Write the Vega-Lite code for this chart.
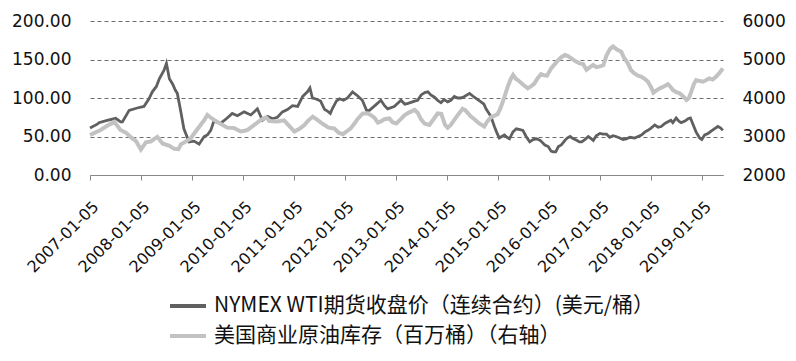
{
"$schema": "https://vega.github.io/schema/vega-lite/v6.json",
"width": 633, "height": 154,
"autosize": {"type": "none"},
"padding": {"left": 90, "top": 21, "right": 73, "bottom": 186},
"background": "white",
"config": {"view": {"stroke": null}, "font": "DejaVu Sans"},
"datasets": {
"wti": [
{"d":"2007-01-05","v":61},{"d":"2007-02-26","v":66},{"d":"2007-03-10","v":68},{"d":"2007-05-08","v":71},{"d":"2007-07-08","v":73.6},{"d":"2007-08-12","v":69},{"d":"2007-08-25","v":69},{"d":"2007-10-12","v":84},{"d":"2007-12-09","v":87},
{"d":"2008-01-26","v":89},{"d":"2008-03-02","v":99},{"d":"2008-03-26","v":108},{"d":"2008-04-24","v":115},{"d":"2008-05-15","v":125},{"d":"2008-06-18","v":136},{"d":"2008-07-05","v":145},{"d":"2008-07-26","v":125},{"d":"2008-08-19","v":118},{"d":"2008-09-07","v":110},{"d":"2008-09-21","v":106},{"d":"2008-10-16","v":82},{"d":"2008-11-07","v":60},{"d":"2008-12-14","v":43},
{"d":"2009-01-19","v":44},{"d":"2009-02-24","v":40},{"d":"2009-04-01","v":50},{"d":"2009-04-24","v":52},{"d":"2009-05-18","v":58},{"d":"2009-06-10","v":70},{"d":"2009-07-27","v":67},{"d":"2009-09-13","v":74},{"d":"2009-10-19","v":80},{"d":"2009-11-25","v":77},
{"d":"2010-01-12","v":82},{"d":"2010-03-01","v":78},{"d":"2010-04-17","v":86},{"d":"2010-05-23","v":71},{"d":"2010-06-29","v":76},{"d":"2010-08-04","v":73},{"d":"2010-09-07","v":75},{"d":"2010-10-13","v":82},{"d":"2010-11-18","v":85},{"d":"2010-12-24","v":90},
{"d":"2011-01-30","v":89},{"d":"2011-03-07","v":102},{"d":"2011-04-10","v":108},{"d":"2011-04-28","v":113},{"d":"2011-05-16","v":100},{"d":"2011-06-06","v":99},{"d":"2011-07-13","v":96},{"d":"2011-08-11","v":85},{"d":"2011-09-01","v":83},{"d":"2011-09-21","v":80},{"d":"2011-10-05","v":86},{"d":"2011-11-03","v":96},{"d":"2011-11-25","v":99},{"d":"2011-12-24","v":97},
{"d":"2012-01-22","v":100},{"d":"2012-02-27","v":108},{"d":"2012-04-02","v":103},{"d":"2012-05-07","v":97},{"d":"2012-06-06","v":84},{"d":"2012-06-27","v":84},{"d":"2012-08-11","v":91},{"d":"2012-09-17","v":97},{"d":"2012-10-13","v":90},{"d":"2012-11-04","v":86},{"d":"2012-12-21","v":89},
{"d":"2013-02-08","v":97},{"d":"2013-03-07","v":92},{"d":"2013-03-30","v":93},{"d":"2013-05-16","v":96},{"d":"2013-06-07","v":97},{"d":"2013-07-02","v":104},{"d":"2013-07-28","v":107},{"d":"2013-08-19","v":108},{"d":"2013-09-09","v":104},{"d":"2013-10-05","v":101},{"d":"2013-10-28","v":97},{"d":"2013-11-21","v":94},{"d":"2013-12-13","v":98},
{"d":"2014-01-08","v":95},{"d":"2014-01-30","v":97},{"d":"2014-02-24","v":102},{"d":"2014-03-21","v":100},{"d":"2014-04-12","v":100},{"d":"2014-05-08","v":102},{"d":"2014-06-13","v":106},{"d":"2014-07-17","v":101},{"d":"2014-08-11","v":98},{"d":"2014-09-03","v":95},{"d":"2014-09-24","v":92},{"d":"2014-10-09","v":86},{"d":"2014-10-27","v":81},{"d":"2014-11-13","v":76},{"d":"2014-12-08","v":63},{"d":"2014-12-23","v":56},
{"d":"2015-01-12","v":48},{"d":"2015-01-30","v":50},{"d":"2015-02-18","v":52},{"d":"2015-03-08","v":49},{"d":"2015-03-26","v":47},{"d":"2015-04-20","v":56},{"d":"2015-05-14","v":60},{"d":"2015-06-09","v":59},{"d":"2015-06-30","v":58},{"d":"2015-07-23","v":50},{"d":"2015-08-18","v":43},{"d":"2015-09-11","v":46},{"d":"2015-10-05","v":47},{"d":"2015-11-01","v":45},{"d":"2015-12-04","v":39},{"d":"2015-12-28","v":37},
{"d":"2016-01-18","v":31},{"d":"2016-02-02","v":30},{"d":"2016-02-20","v":30},{"d":"2016-03-10","v":37},{"d":"2016-03-31","v":39},{"d":"2016-04-26","v":45},{"d":"2016-05-12","v":48},{"d":"2016-06-02","v":50},{"d":"2016-06-25","v":47},{"d":"2016-07-19","v":45},{"d":"2016-08-07","v":43},{"d":"2016-08-24","v":43},{"d":"2016-09-15","v":46},{"d":"2016-10-10","v":50},{"d":"2016-11-01","v":47},{"d":"2016-11-15","v":45},{"d":"2016-12-06","v":51},
{"d":"2017-01-01","v":54},{"d":"2017-01-24","v":53},{"d":"2017-02-17","v":53},{"d":"2017-03-12","v":49},{"d":"2017-04-05","v":51},{"d":"2017-04-26","v":50},{"d":"2017-05-23","v":48},{"d":"2017-06-15","v":46},{"d":"2017-07-09","v":47},{"d":"2017-08-05","v":49},{"d":"2017-09-07","v":48},{"d":"2017-10-01","v":50},{"d":"2017-10-25","v":52},{"d":"2017-11-20","v":56},{"d":"2017-12-11","v":58},
{"d":"2018-01-02","v":61},{"d":"2018-01-29","v":65},{"d":"2018-02-21","v":62},{"d":"2018-03-16","v":63},{"d":"2018-04-11","v":67},{"d":"2018-05-03","v":69},{"d":"2018-05-24","v":71},{"d":"2018-06-07","v":68},{"d":"2018-07-01","v":74},{"d":"2018-07-20","v":70},{"d":"2018-08-06","v":68},{"d":"2018-09-02","v":70},{"d":"2018-09-24","v":73},{"d":"2018-10-11","v":74},{"d":"2018-10-29","v":66},{"d":"2018-11-20","v":56},{"d":"2018-12-16","v":48},{"d":"2018-12-31","v":46},
{"d":"2019-01-21","v":52},{"d":"2019-02-14","v":54},{"d":"2019-03-08","v":57},{"d":"2019-03-31","v":60},{"d":"2019-04-25","v":63},{"d":"2019-05-16","v":61},{"d":"2019-05-31","v":58}
],
"inv": [
{"d":"2007-01-05","v":3040},{"d":"2007-03-22","v":3170},{"d":"2007-05-08","v":3280},{"d":"2007-06-28","v":3380},{"d":"2007-08-11","v":3170},{"d":"2007-09-19","v":3100},{"d":"2007-10-22","v":2990},{"d":"2007-11-30","v":2880},
{"d":"2008-01-04","v":2660},{"d":"2008-02-09","v":2850},{"d":"2008-03-14","v":2870},{"d":"2008-05-01","v":2990},{"d":"2008-06-07","v":2820},{"d":"2008-07-26","v":2760},{"d":"2008-08-30","v":2680},{"d":"2008-09-29","v":2670},{"d":"2008-10-17","v":2800},{"d":"2008-11-17","v":2860},{"d":"2008-12-25","v":2950},
{"d":"2009-02-03","v":3150},{"d":"2009-03-06","v":3300},{"d":"2009-04-01","v":3420},{"d":"2009-04-24","v":3560},{"d":"2009-05-15","v":3500},{"d":"2009-06-10","v":3430},{"d":"2009-07-27","v":3330},{"d":"2009-09-13","v":3230},{"d":"2009-10-31","v":3220},{"d":"2009-12-18","v":3130},
{"d":"2010-01-15","v":3150},{"d":"2010-02-06","v":3170},{"d":"2010-03-26","v":3300},{"d":"2010-05-11","v":3430},{"d":"2010-06-18","v":3500},{"d":"2010-07-12","v":3400},{"d":"2010-09-07","v":3390},{"d":"2010-10-25","v":3420},{"d":"2010-12-02","v":3270},
{"d":"2011-01-07","v":3130},{"d":"2011-02-12","v":3200},{"d":"2011-03-17","v":3290},{"d":"2011-04-17","v":3420},{"d":"2011-05-18","v":3515},{"d":"2011-06-20","v":3430},{"d":"2011-07-28","v":3330},{"d":"2011-09-08","v":3230},{"d":"2011-10-19","v":3210},{"d":"2011-11-19","v":3100},{"d":"2011-12-20","v":3060},
{"d":"2012-01-15","v":3130},{"d":"2012-02-14","v":3210},{"d":"2012-03-14","v":3350},{"d":"2012-04-02","v":3450},{"d":"2012-05-10","v":3600},{"d":"2012-06-13","v":3600},{"d":"2012-07-05","v":3560},{"d":"2012-08-03","v":3480},{"d":"2012-08-26","v":3360},{"d":"2012-09-17","v":3390},{"d":"2012-10-13","v":3450},{"d":"2012-11-17","v":3470},{"d":"2012-12-10","v":3370},
{"d":"2013-01-05","v":3340},{"d":"2013-02-06","v":3450},{"d":"2013-03-04","v":3550},{"d":"2013-04-05","v":3620},{"d":"2013-05-16","v":3690},{"d":"2013-06-07","v":3620},{"d":"2013-07-02","v":3440},{"d":"2013-07-28","v":3330},{"d":"2013-08-30","v":3300},{"d":"2013-10-01","v":3460},{"d":"2013-10-28","v":3600},{"d":"2013-11-23","v":3590},{"d":"2013-12-20","v":3300},
{"d":"2014-01-08","v":3230},{"d":"2014-01-30","v":3300},{"d":"2014-02-24","v":3430},{"d":"2014-03-26","v":3580},{"d":"2014-04-24","v":3720},{"d":"2014-05-15","v":3680},{"d":"2014-06-23","v":3520},{"d":"2014-07-20","v":3440},{"d":"2014-08-21","v":3340},{"d":"2014-09-27","v":3260},{"d":"2014-10-20","v":3400},{"d":"2014-11-13","v":3500},{"d":"2014-12-08","v":3540},{"d":"2014-12-31","v":3580},
{"d":"2015-01-22","v":3750},{"d":"2015-02-18","v":4030},{"d":"2015-03-14","v":4300},{"d":"2015-04-05","v":4500},{"d":"2015-04-21","v":4600},{"d":"2015-05-10","v":4500},{"d":"2015-06-06","v":4430},{"d":"2015-07-07","v":4330},{"d":"2015-08-04","v":4250},{"d":"2015-08-26","v":4300},{"d":"2015-09-21","v":4380},{"d":"2015-10-16","v":4530},{"d":"2015-11-07","v":4620},{"d":"2015-11-27","v":4590},{"d":"2015-12-20","v":4580},
{"d":"2016-01-18","v":4770},{"d":"2016-02-13","v":4880},{"d":"2016-03-10","v":4990},{"d":"2016-03-31","v":5060},{"d":"2016-04-26","v":5117},{"d":"2016-05-17","v":5090},{"d":"2016-06-11","v":5030},{"d":"2016-07-08","v":4960},{"d":"2016-08-09","v":4900},{"d":"2016-09-03","v":4880},{"d":"2016-09-27","v":4730},{"d":"2016-10-22","v":4800},{"d":"2016-11-14","v":4857},{"d":"2016-12-07","v":4800},
{"d":"2017-01-01","v":4820},{"d":"2017-01-26","v":4850},{"d":"2017-02-17","v":5100},{"d":"2017-03-14","v":5270},{"d":"2017-04-05","v":5340},{"d":"2017-05-03","v":5260},{"d":"2017-06-03","v":5200},{"d":"2017-06-22","v":5050},{"d":"2017-07-20","v":4900},{"d":"2017-08-12","v":4720},{"d":"2017-09-01","v":4650},{"d":"2017-10-01","v":4580},{"d":"2017-10-26","v":4550},{"d":"2017-11-20","v":4490},{"d":"2017-12-11","v":4420},
{"d":"2018-01-02","v":4280},{"d":"2018-01-19","v":4140},{"d":"2018-02-10","v":4200},{"d":"2018-03-06","v":4250},{"d":"2018-03-31","v":4293},{"d":"2018-05-03","v":4360},{"d":"2018-05-24","v":4280},{"d":"2018-06-07","v":4210},{"d":"2018-07-02","v":4150},{"d":"2018-07-26","v":4121},{"d":"2018-08-20","v":4040},{"d":"2018-09-13","v":3950},{"d":"2018-09-30","v":4000},{"d":"2018-10-17","v":4164},{"d":"2018-11-03","v":4350},{"d":"2018-11-21","v":4467},{"d":"2018-12-16","v":4440},
{"d":"2019-01-08","v":4423},{"d":"2019-01-30","v":4460},{"d":"2019-02-23","v":4510},{"d":"2019-03-19","v":4480},{"d":"2019-04-12","v":4553},{"d":"2019-05-07","v":4650},{"d":"2019-05-31","v":4770}
]
},
"encoding": {
  "x": {"field": "d", "type": "temporal",
    "scale": {"type": "utc", "domain": [{"year":2007,"month":1,"date":5,"utc":true},{"year":2019,"month":6,"date":1,"utc":true}]},
    "axis": {"title": null, "grid": false,
      "values": [{"year":2007,"month":1,"date":5,"utc":true},{"year":2008,"month":1,"date":5,"utc":true},{"year":2009,"month":1,"date":5,"utc":true},{"year":2010,"month":1,"date":5,"utc":true},{"year":2011,"month":1,"date":5,"utc":true},{"year":2012,"month":1,"date":5,"utc":true},{"year":2013,"month":1,"date":5,"utc":true},{"year":2014,"month":1,"date":5,"utc":true},{"year":2015,"month":1,"date":5,"utc":true},{"year":2016,"month":1,"date":5,"utc":true},{"year":2017,"month":1,"date":5,"utc":true},{"year":2018,"month":1,"date":5,"utc":true},{"year":2019,"month":1,"date":5,"utc":true}],
      "labelExpr": "utcFormat(datum.value, '%Y-%m-%d')",
      "labelAngle": -45, "labelFontSize": 16, "labelColor": "#111111", "labelPadding": 18,
      "tickSize": 5, "tickColor": "#888888", "domainColor": "#888888", "labelOverlap": false, "labelFlush": false}
  }
},
"layer": [
  {"data": {"name": "wti"},
   "mark": {"type": "line", "strokeWidth": 2.8},
   "encoding": {
     "y": {"field": "v", "type": "quantitative", "scale": {"domain": [0, 200]},
       "axis": {"title": null, "orient": "left", "values": [0,50,100,150,200], "format": ".2f",
         "grid": true, "gridDash": [4,3], "gridColor": "#6e6e6e", "gridWidth": 1,
         "domain": false, "ticks": false, "labelPadding": 19, "labelFontSize": 17, "labelColor": "#111111"}},
     "color": {"datum": "NYMEX WTI期货收盘价（连续合约）(美元/桶）", "type": "nominal",
       "scale": {"domain": ["NYMEX WTI期货收盘价（连续合约）(美元/桶）", "美国商业原油库存（百万桶）（右轴）"], "range": ["#606060", "#c2c2c2"]},
       "legend": {"title": null, "orient": "none", "legendX": 78, "legendY": 265, "direction": "vertical",
         "symbolType": "stroke", "symbolSize": 1296, "symbolStrokeWidth": 4,
         "labelFont": "Noto Sans CJK SC", "labelFontSize": 21, "labelColor": "#111111", "labelLimit": 700,
         "labelOffset": 6, "rowPadding": 0}}
   }},
  {"data": {"name": "inv"},
   "mark": {"type": "line", "strokeWidth": 4},
   "encoding": {
     "y": {"field": "v", "type": "quantitative", "scale": {"domain": [2000, 6000]},
       "axis": {"title": null, "orient": "right", "values": [2000,3000,4000,5000,6000], "format": "d",
         "grid": false, "domain": false, "ticks": false, "labelPadding": 19, "labelFontSize": 17, "labelColor": "#111111"}},
     "color": {"datum": "美国商业原油库存（百万桶）（右轴）", "type": "nominal"}
   }}
],
"resolve": {"scale": {"y": "independent"}}
}
